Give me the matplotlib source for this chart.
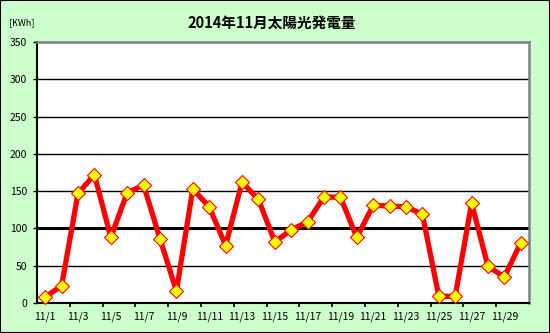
import matplotlib
matplotlib.use("Agg")
import matplotlib.pyplot as plt
from matplotlib.patches import Rectangle

plt.rcParams['font.family'] = ['Noto Sans CJK JP', 'DejaVu Sans']

days = [f"11/{d}" for d in range(1, 31)]
values = [8, 23, 147, 172, 88, 148, 158, 86, 16, 153, 129, 77, 162, 139, 82,
          98, 109, 142, 142, 88, 131, 130, 129, 119, 9, 9, 134, 49, 35, 81]
yticks = [0, 50, 100, 150, 200, 250, 300, 350]
title = "2014年11月太陽光発電量"
unit = "[KWh]"

fig = plt.figure(figsize=(5.5, 3.33), dpi=100)
fig.patch.set_facecolor('#CCFFCC')
fig.patches.append(Rectangle((0, 0), 1, 1, transform=fig.transFigure, fill=False,
                             edgecolor='black', linewidth=1.5, zorder=10))

ax = fig.add_axes([37/550, 30/333, 492/550, 261/333])
ax.set_facecolor('white')
x = list(range(len(days)))
ax.plot(x, values, color='#FF0000', linewidth=3.8, marker='D', markersize=7.5,
        markerfacecolor='#FFFF00', markeredgecolor='#FF0000', markeredgewidth=0.8,
        zorder=3, clip_on=False)

ax.set_xlim(-0.5, len(days) - 0.5)
ax.set_ylim(0, 350)
ax.set_yticks(yticks)
ax.set_yticklabels([str(v) for v in yticks], fontsize=7.5)
for v in yticks[1:-1]:
    ax.axhline(v, color='black', linewidth=2.2 if v == 100 else 1.0, zorder=1)

ax.set_xticks([i + 0.5 for i in range(1, len(days) - 1, 2)])
ax.set_xticklabels([])
ax.set_xticks(x[::2], minor=True)
ax.set_xticklabels(days[::2], minor=True, fontsize=7.5)
ax.tick_params(axis='x', which='minor', length=0, pad=6)
ax.tick_params(axis='x', which='major', length=3, width=1.2, direction='out')
ax.tick_params(axis='y', length=3, width=1, direction='out', pad=4)

ax.spines['left'].set_color('black')
ax.spines['left'].set_linewidth(1.5)
ax.spines['bottom'].set_color('black')
ax.spines['bottom'].set_linewidth(1.5)
ax.spines['top'].set_color('#808080')
ax.spines['top'].set_linewidth(1.8)
ax.spines['right'].set_color('#808080')
ax.spines['right'].set_linewidth(1.8)

fig.text(272/550, 1 - 23/333, title, ha='center', va='center', fontsize=10.5,
         fontweight='bold')
fig.text(9/550, 1 - 23/333, unit, ha='left', va='center', fontsize=6.5)

fig.savefig("out.png", dpi=100, facecolor=fig.get_facecolor())
